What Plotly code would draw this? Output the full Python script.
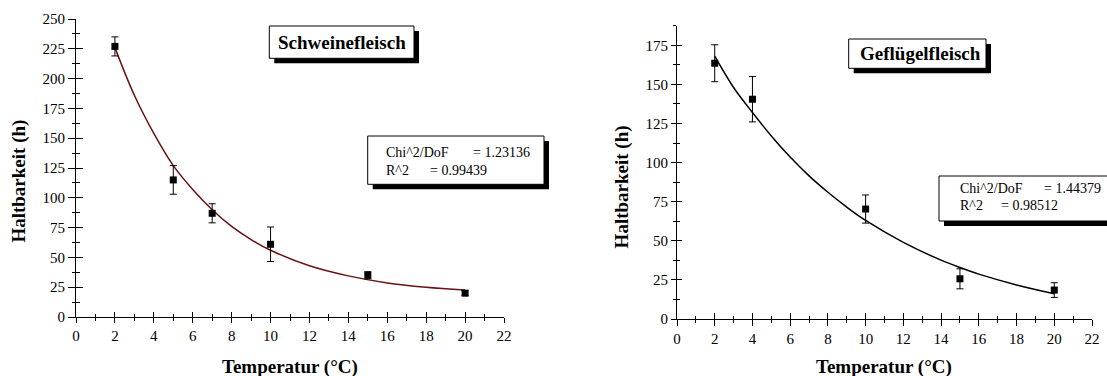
import plotly.graph_objects as go

W, H = 1107, 376

# ---- data ----
pork_temp = [2, 5, 7, 10, 15, 20]
pork_shelf = [227, 115, 87, 61, 35, 20]
pork_err = [8, 12, 8, 14.5, 3, 2]
pork_fit_x = [2, 3, 4, 5, 6, 7, 8, 9, 10, 12, 14, 16, 18, 20]
pork_fit_y = [226, 186, 154, 127, 107, 90, 76, 65, 56, 43, 34.5, 28.6, 25, 22.6]

poultry_temp = [2, 4, 10, 15, 20]
poultry_shelf = [163.5, 140.5, 70.3, 25.7, 18.5]
poultry_err = [11.8, 14.5, 9, 6.4, 4.7]
poultry_fit_x = [2, 3, 4, 5, 6, 7, 8, 9, 10, 12, 14, 15, 16, 18, 20]
poultry_fit_y = [168, 148, 132, 117, 103.5, 91.5, 81, 71.5, 63, 49, 37.6, 32.9, 28.7, 21.8, 16.2]

x_title = "Temperatur (°C)"
y_title = "Haltbarkeit (h)"
left_label = "Schweinefleisch"
right_label = "Geflügelfleisch"
left_stats = ("Chi^2/DoF", "= 1.23136", "R^2", "= 0.99439")
right_stats = ("Chi^2/DoF", "= 1.44379", "R^2", "= 0.98512")

SERIF = "Liberation Serif"


def px(x):
    return x / W


def py(y):
    return 1 - y / H


fig = go.Figure()

# left panel
fig.add_trace(go.Scatter(x=pork_fit_x, y=pork_fit_y, mode="lines", line=dict(color="#6a1212", width=1.5, shape="spline"),
                         xaxis="x", yaxis="y", showlegend=False, hoverinfo="skip", cliponaxis=False))
fig.add_trace(go.Scatter(x=pork_temp, y=pork_shelf, mode="markers",
                         marker=dict(symbol="square", size=7, color="black"),
                         error_y=dict(type="data", array=pork_err, color="black", thickness=1, width=3.5),
                         xaxis="x", yaxis="y", showlegend=False, cliponaxis=False))
# right panel
fig.add_trace(go.Scatter(x=poultry_fit_x, y=poultry_fit_y, mode="lines", line=dict(color="black", width=1.5, shape="spline"),
                         xaxis="x2", yaxis="y2", showlegend=False, hoverinfo="skip", cliponaxis=False))
fig.add_trace(go.Scatter(x=poultry_temp, y=poultry_shelf, mode="markers",
                         marker=dict(symbol="square", size=7, color="black"),
                         error_y=dict(type="data", array=poultry_err, color="black", thickness=1, width=3.5),
                         xaxis="x2", yaxis="y2", showlegend=False, cliponaxis=False))
# invisible traces for overlay (inside-tick) axes
fig.add_trace(go.Scatter(x=[None], y=[None], xaxis="x3", yaxis="y3", showlegend=False, hoverinfo="skip"))
fig.add_trace(go.Scatter(x=[None], y=[None], xaxis="x4", yaxis="y4", showlegend=False, hoverinfo="skip"))

tickfont = dict(family=SERIF, size=15, color="black")


def xax(domain, anchor, ticks, ylen, minorlen, overlay=None, labels=True):
    d = dict(domain=domain, range=[0, 22], dtick=2, tick0=0, anchor=anchor, showgrid=False, zeroline=False,
             ticks=ticks, ticklen=ylen, tickwidth=1, tickcolor="black",
             minor=dict(dtick=1, tick0=0, ticks=ticks, ticklen=minorlen, tickcolor="black", tickwidth=1, showgrid=False),
             showline=labels, linecolor="black", linewidth=1, showticklabels=labels, tickfont=tickfont,
             automargin=False, fixedrange=True)
    if overlay:
        d["overlaying"] = overlay
    return d


def yax(domain, anchor, rng, ticks, ylen, minorlen, overlay=None, labels=True):
    d = dict(domain=domain, range=rng, dtick=25, tick0=0, anchor=anchor, showgrid=False, zeroline=False,
             ticks=ticks, ticklen=ylen, tickwidth=1, tickcolor="black",
             minor=dict(dtick=12.5, tick0=0, ticks=ticks, ticklen=minorlen, tickcolor="black", tickwidth=1, showgrid=False),
             showline=labels, linecolor="black", linewidth=1, showticklabels=labels, tickfont=tickfont,
             automargin=False, fixedrange=True)
    if overlay:
        d["overlaying"] = overlay
    return d


L_xd = [px(76), px(504)]
L_yd = [py(317), py(19)]
R_xd = [px(677), px(1092)]
R_yd = [py(319), py(25.7)]

fig.update_layout(
    width=W, height=H,
    margin=dict(l=0, r=0, t=0, b=0),
    paper_bgcolor="white", plot_bgcolor="rgba(0,0,0,0)",
    font=dict(family=SERIF, color="black"),
    xaxis=xax(L_xd, "y", "outside", 5, 3),
    yaxis=yax(L_yd, "x", [0, 250], "outside", 7, 3.5),
    xaxis3=xax(L_xd, "y3", "inside", 5, 3, overlay="x", labels=False),
    yaxis3=yax(L_yd, "x3", [0, 250], "inside", 7, 3.5, overlay="y", labels=False),
    xaxis2=xax(R_xd, "y2", "outside", 6, 3),
    yaxis2=yax(R_yd, "x2", [0, 187.5], "outside", 5, 3),
    xaxis4=xax(R_xd, "y4", "inside", 6, 3, overlay="x2", labels=False),
    yaxis4=yax(R_yd, "x4", [0, 187.5], "inside", 5, 3, overlay="y2", labels=False),
)

shapes = []
annotations = []


def box(x0, y0, x1, y1, off=5):
    shapes.append(dict(type="rect", xref="paper", yref="paper", x0=px(x0 + off), x1=px(x1 + off),
                       y0=py(y1 + off), y1=py(y0 + off), fillcolor="black", line=dict(width=0), layer="above"))
    shapes.append(dict(type="rect", xref="paper", yref="paper", x0=px(x0), x1=px(x1),
                       y0=py(y1), y1=py(y0), fillcolor="white", line=dict(color="black", width=1), layer="above"))


def text(x, y, t, size, bold=False, xanchor="left", angle=0):
    annotations.append(dict(xref="paper", yref="paper", x=px(x), y=py(y), text=f"<b>{t}</b>" if bold else t,
                            showarrow=False, xanchor=xanchor, yanchor="middle", textangle=angle,
                            font=dict(family=SERIF, size=size, color="black")))


# title boxes
box(269.3, 26, 414, 58.3)
text(341.7, 42.5, left_label, 19, bold=True, xanchor="center")
box(848.7, 39, 986, 68.3)
text(920.5, 54, right_label, 19, bold=True, xanchor="center")

# stats boxes
box(367.7, 136, 544, 184.3)
text(384, 152, left_stats[0], 14)
text(470.7, 152, left_stats[1], 14)
text(384, 170, left_stats[2], 14)
text(428.3, 170, left_stats[3], 14)

box(939, 176, 1115, 221)
text(957.7, 188.3, right_stats[0], 14)
text(1041.7, 188.3, right_stats[1], 14)
text(957.7, 205.7, right_stats[2], 14)
text(999.3, 205.7, right_stats[3], 14)

# axis titles
text(290, 367, x_title, 19, bold=True, xanchor="center")
text(19, 181.6, y_title, 19, bold=True, xanchor="center", angle=-90)
text(884, 367, x_title, 19, bold=True, xanchor="center")
text(621.7, 186.7, y_title, 19, bold=True, xanchor="center", angle=-90)

fig.update_layout(shapes=shapes, annotations=annotations)

fig.write_html("out.html", config={"displayModeBar": False},
               post_script="document.body.style.margin='0';document.body.style.overflow='hidden';")
